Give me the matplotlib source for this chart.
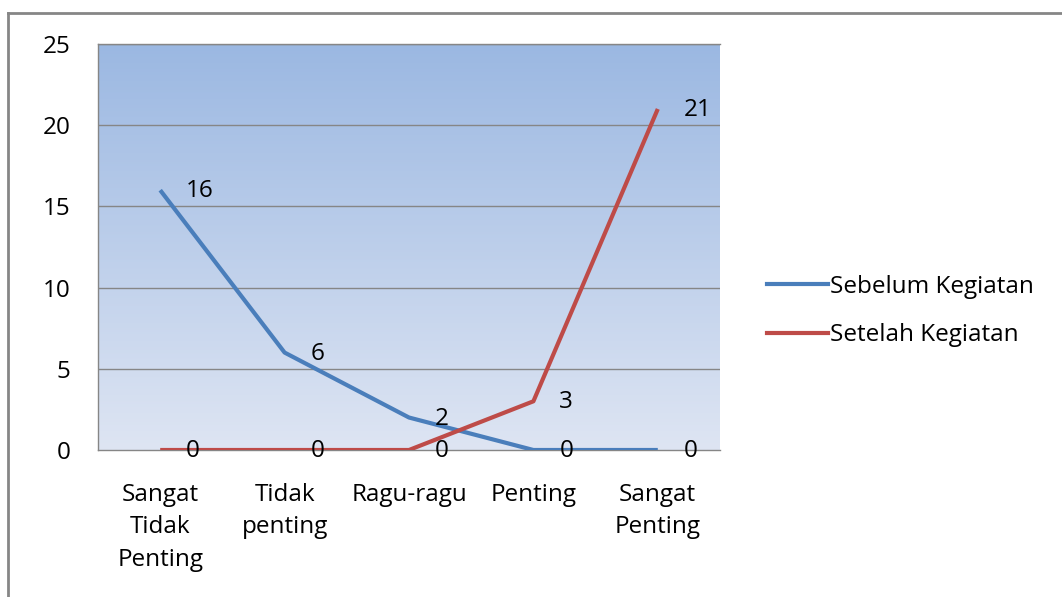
import matplotlib
matplotlib.use("Agg")
import matplotlib.pyplot as plt
import numpy as np
from matplotlib.lines import Line2D

categories = ["Sangat\nTidak\nPenting", "Tidak\npenting", "Ragu-ragu", "Penting", "Sangat\nPenting"]
sebelum = [16, 6, 2, 0, 0]
setelah = [0, 0, 0, 3, 21]
series_names = ["Sebelum Kegiatan", "Setelah Kegiatan"]
yticks = [0, 5, 10, 15, 20, 25]

plt.rcParams['font.family'] = ['Open Sans', 'DejaVu Sans']
FS = 17.5
W, H = 1062, 597
fig = plt.figure(figsize=(W/100, H/100), dpi=100)

ax = fig.add_axes([98/W, 1-450/H, (720-98)/W, (450-44)/H])
x = np.arange(len(categories))
ax.set_xlim(-0.5, len(categories)-0.5)
ax.set_ylim(0, 25)

# gradient background
top = np.array([155, 184, 226]) / 255
bot = np.array([222, 229, 243]) / 255
t = np.linspace(0, 1, 256)[:, None]
grad = (top[None, :] * (1 - t) + bot[None, :] * t)[:, None, :]
ax.imshow(grad, extent=[-0.5, len(categories)-0.5, 0, 25], aspect='auto', zorder=0, origin='upper')

for yv in yticks[1:]:
    ax.axhline(yv, color='#868686', lw=1, zorder=1)

ax.spines['right'].set_visible(False)
for s in ['left', 'top', 'bottom']:
    ax.spines[s].set_color('#868686')
    ax.spines[s].set_linewidth(1)

ax.set_yticks(yticks)
ax.set_yticklabels([str(v) for v in yticks], fontsize=FS)
ax.set_xticks(x)
ax.set_xticklabels(categories, fontsize=FS, va='top', linespacing=1.45)
ax.tick_params(axis='y', length=0, pad=20)
ax.tick_params(axis='x', length=0, pad=24)

blue = '#4A7EBB'
red = '#BE4B48'
ax.plot(x, sebelum, color=blue, lw=3, zorder=3, solid_capstyle='butt')
ax.plot(x, setelah, color=red, lw=3, zorder=4, solid_capstyle='butt')

for xi, v in zip(x, sebelum):
    ax.annotate(str(v), (xi, v), xytext=(26, -1), textcoords='offset pixels',
                ha='left', va='center', fontsize=FS, zorder=5, annotation_clip=False)
for xi, v in zip(x, setelah):
    ax.annotate(str(v), (xi, v), xytext=(26, -1), textcoords='offset pixels',
                ha='left', va='center', fontsize=FS, zorder=5, annotation_clip=False)

handles = [Line2D([], [], color=blue, lw=3), Line2D([], [], color=red, lw=3)]
fig.legend(handles, series_names, loc='center left', bbox_to_anchor=(745/W, 1-311/H),
           frameon=False, fontsize=FS, handlelength=2.5, handletextpad=0.1, labelspacing=1.0)

# outer border
fig.add_artist(Line2D([8/W, 8/W], [0, 1-13/H], color='#868686', lw=2, transform=fig.transFigure))
fig.add_artist(Line2D([8/W, 1], [1-13/H, 1-13/H], color='#868686', lw=2, transform=fig.transFigure))

fig.savefig("out.png", dpi=100)
